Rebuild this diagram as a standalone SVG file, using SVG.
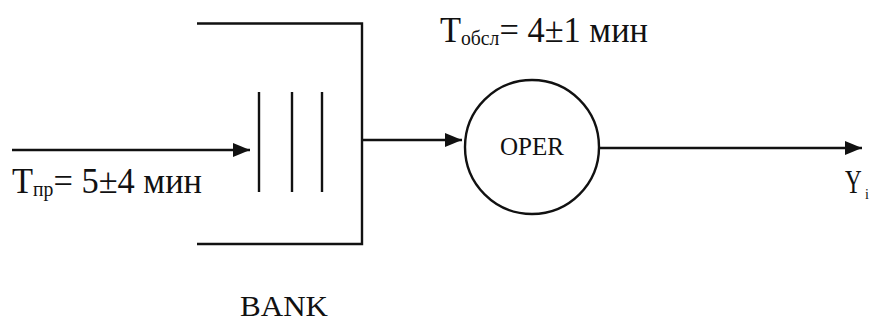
<svg xmlns="http://www.w3.org/2000/svg" width="872" height="323" viewBox="0 0 872 323">
  <style>
    .ln { stroke: #111; stroke-width: 2.4; fill: none; }
    .lbl { fill: #111; }
  </style>
  <defs>
    <marker id="arrow" markerWidth="18" markerHeight="16" refX="17" refY="8" orient="auto" markerUnits="userSpaceOnUse">
      <path d="M0,1 L17,8 L0,15 Z" fill="#111"/>
    </marker>
  </defs>
  <rect width="872" height="323" fill="#ffffff"/>

  <!-- queue: BANK -->
  <g id="bank">
    <path class="ln" d="M197,23.5 H362 V244 H197"/>
    <line class="ln" x1="259" y1="92" x2="259" y2="192"/>
    <line class="ln" x1="292" y1="92" x2="292" y2="192"/>
    <line class="ln" x1="322" y1="92" x2="322" y2="192"/>
    <text class="lbl" font-family="Liberation Serif, DejaVu Serif, serif" x="240" y="316" font-size="30" textLength="88" lengthAdjust="spacingAndGlyphs">BANK</text>
  </g>

  <!-- server: OPER -->
  <g id="oper">
    <circle class="ln" cx="532" cy="147" r="67"/>
    <text class="lbl" font-family="Liberation Serif, DejaVu Serif, serif" x="532" y="155" font-size="25" text-anchor="middle" textLength="64" lengthAdjust="spacingAndGlyphs">OPER</text>
  </g>

  <!-- connectors -->
  <g id="connectors">
    <line class="ln" x1="12" y1="150" x2="250" y2="150" marker-end="url(#arrow)"/>
    <line class="ln" x1="362" y1="140" x2="462" y2="140" marker-end="url(#arrow)"/>
    <line class="ln" x1="600" y1="148" x2="862" y2="148" marker-end="url(#arrow)"/>
  </g>

  <!-- labels -->
  <g id="labels" font-family="Liberation Serif, DejaVu Serif, serif">
    <text class="lbl" x="12" y="193" font-size="35" textLength="190" lengthAdjust="spacingAndGlyphs">T<tspan font-size="20" dy="3">пр</tspan><tspan dy="-3">= 5±4 мин</tspan></text>
    <text class="lbl" x="440" y="42" font-size="35" textLength="208" lengthAdjust="spacingAndGlyphs">T<tspan font-size="20" dy="3">обсл</tspan><tspan dy="-3">= 4±1 мин</tspan></text>
    <text class="lbl" transform="translate(845,193) scale(0.68,1)" x="0" y="0" font-size="34">Y</text>
    <text class="lbl" x="865" y="199" font-size="14">i</text>
  </g>
</svg>
